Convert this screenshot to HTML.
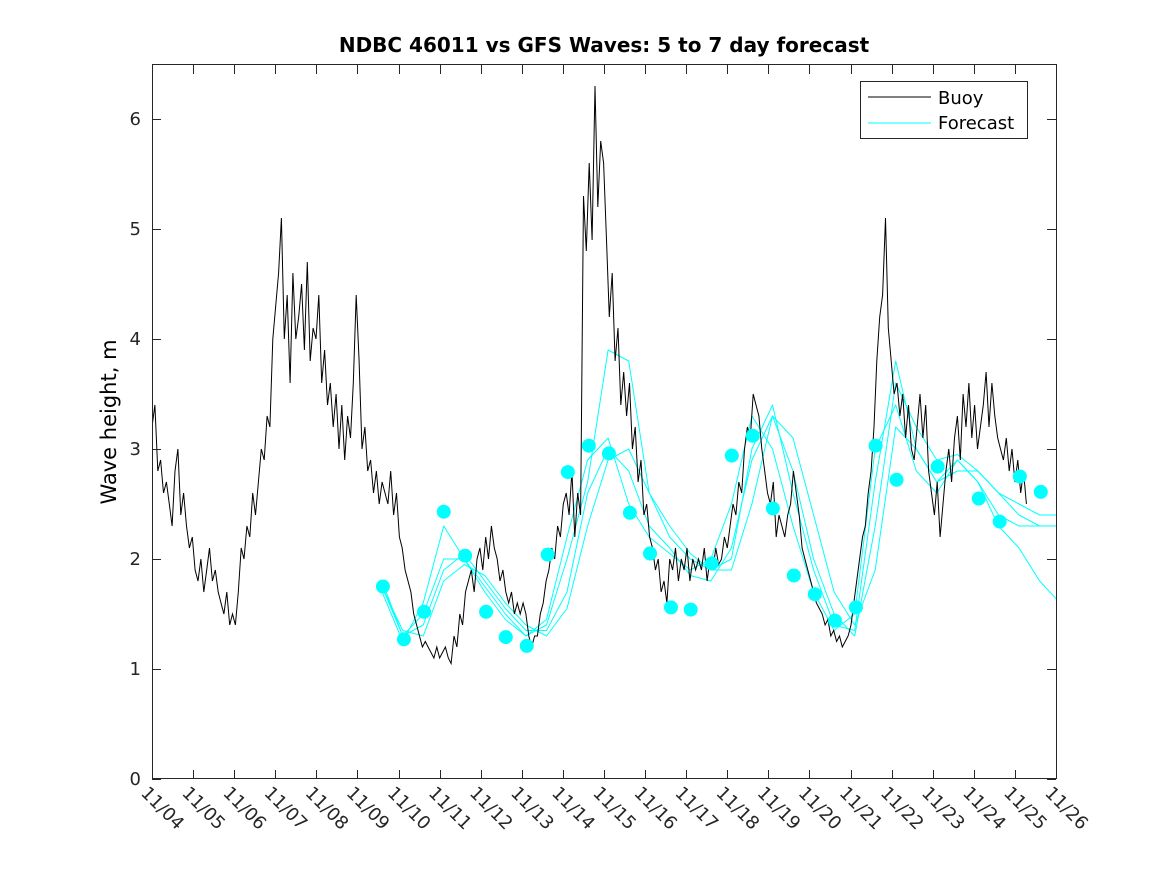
<!DOCTYPE html>
<html><head><meta charset="utf-8"><style>
body{margin:0;background:#fff}
svg text{font-family:"DejaVu Sans","Liberation Sans",sans-serif}
</style></head><body>
<svg id="chart" width="1167" height="875" xmlns="http://www.w3.org/2000/svg">
<rect width="1167" height="875" fill="#fff"/>
<text x="604" y="52" text-anchor="middle" font-size="20" font-weight="bold">NDBC 46011 vs GFS Waves: 5 to 7 day forecast</text>
<text transform="translate(116,422) rotate(-90)" text-anchor="middle" font-size="21">Wave height, m</text>
<g id="plot"></g>
<rect x="152.5" y="64.5" width="904" height="714" fill="none" stroke="#262626" stroke-width="1"/>
<g id="axes"></g>
<g>
<rect x="860.5" y="81.5" width="167" height="57" fill="#fff" stroke="#262626"/>
<line x1="868" y1="97" x2="931" y2="97" stroke="#000"/>
<text x="938" y="104" font-size="18">Buoy</text>
<line x1="868" y1="123" x2="931" y2="123" stroke="#0ff"/>
<text x="938" y="129" font-size="18">Forecast</text>
</g>
</svg>
<script>
const dateLabels=["11/04","11/05","11/06","11/07","11/08","11/09","11/10","11/11","11/12","11/13","11/14","11/15","11/16","11/17","11/18","11/19","11/20","11/21","11/22","11/23","11/24","11/25","11/26"];
const yTicks=[0,1,2,3,4,5,6];
const buoyStart=0, buoyStep=0.07;
const buoyVals=[
3.2,3.4,2.8,2.9,2.6,2.7,2.5,2.3,2.8,3.0,
2.4,2.6,2.3,2.1,2.2,1.9,1.8,2.0,1.7,1.9,
2.1,1.8,1.9,1.7,1.6,1.5,1.7,1.4,1.5,1.4,
1.7,2.1,2.0,2.3,2.2,2.6,2.4,2.7,3.0,2.9,
3.3,3.2,4.0,4.3,4.6,5.1,4.0,4.4,3.6,4.6,
4.0,4.2,4.5,3.9,4.7,3.8,4.1,4.0,4.4,3.6,
3.9,3.4,3.6,3.2,3.5,3.0,3.4,2.9,3.3,3.1,
3.6,4.4,3.8,3.0,3.2,2.8,2.9,2.6,2.8,2.5,
2.7,2.6,2.5,2.8,2.4,2.6,2.2,2.1,1.9,1.8,
1.7,1.5,1.4,1.3,1.2,1.25,1.2,1.15,1.1,1.2,
1.1,1.15,1.2,1.1,1.05,1.3,1.2,1.5,1.4,1.7,
1.8,1.9,1.7,2.0,2.1,1.9,2.2,2.0,2.3,2.1,
2.0,1.8,1.9,1.7,1.6,1.7,1.5,1.6,1.5,1.6,
1.5,1.3,1.2,1.3,
1.3,1.5,1.6,1.8,1.9,2.1,2.0,2.3,2.2,2.5,
2.6,2.4,2.8,2.2,2.6,2.4,5.3,4.8,5.6,4.9,
6.3,5.2,5.8,5.6,4.9,4.2,4.6,3.8,4.1,3.4,
3.7,3.3,3.6,3.0,3.2,2.7,2.9,2.4,2.5,2.2,
2.1,1.9,2.0,1.7,1.8,1.6,2.0,1.9,2.1,1.8,
2.0,1.9,2.1,1.8,2.0,1.9,
2.0,1.9,2.1,1.8,2.0,1.9,2.1,1.95,2.0,2.2,
2.1,2.3,2.5,2.4,2.7,2.6,3.0,3.2,3.1,3.5,
3.4,3.3,3.0,2.8,2.6,2.5,2.7,2.2,2.4,2.3,
2.2,2.4,2.5,2.8,2.6,2.4,2.1,2.0,1.9,1.8,
1.7,1.6,1.55,1.5,1.4,1.45,1.3,1.35,1.25,1.3,
1.2,1.25,1.3,1.4,1.6,1.8,2.0,2.2,2.3,2.6,
2.8,3.2,3.8,4.2,4.4,5.1,4.1,3.8,3.5,3.6,
3.3,3.5,3.1,3.4,3.0,2.9,3.2,3.5,3.1,3.4,
2.8,2.6,2.4,2.7,2.2,2.5,2.8,3.0,2.7,3.1,
3.3,2.9,3.5,3.2,3.6,3.1,3.4,3.0,3.2,3.4,
3.7,3.2,3.6,3.3,3.1,3.0,2.9,3.1,2.8,3.0,
2.7,2.9,2.6,2.8,2.5];
const fcStart=5.6, fcStep=0.5;
const fcSeries=[
[1.75,1.3,1.5,2.0,2.0,1.7,1.45,1.3,1.45,2.2,2.9,3.1,2.5,2.2,2.05,1.9,2.0,2.5,3.3,3.0,2.3,1.7,1.35,1.5,3.0,3.4,2.8,2.6,2.9,2.7,2.4,2.3,2.3,2.3],
[1.7,1.25,1.6,2.3,2.0,1.75,1.5,1.3,1.4,2.0,2.7,3.9,3.8,2.6,2.2,2.0,1.9,2.0,3.0,3.4,2.6,1.9,1.4,1.35,2.7,3.8,3.0,2.7,2.9,2.7,2.3,2.1,1.8,1.6],
[1.8,1.3,1.4,1.9,2.05,1.8,1.55,1.35,1.35,1.7,2.6,3.0,2.8,2.3,2.1,1.85,1.8,2.1,2.9,3.3,2.8,2.0,1.5,1.3,2.3,3.6,3.2,2.9,2.95,2.8,2.6,2.5,2.4,2.4],
[1.75,1.35,1.3,1.8,1.95,1.85,1.6,1.4,1.3,1.55,2.3,2.9,3.0,2.6,2.3,2.05,1.9,1.9,2.5,3.3,3.1,2.4,1.7,1.4,1.9,3.2,3.0,2.7,2.8,2.8,2.6,2.4,2.3,2.3]];
const dotDays=[5.62,6.13,6.62,7.1,7.62,8.13,8.61,9.12,9.63,10.12,10.63,11.12,11.63,12.12,12.63,13.11,13.62,14.11,14.62,15.11,15.62,16.13,16.62,17.13,17.61,18.12,19.12,20.12,20.63,21.12,21.63];
const dotVals=[1.75,1.27,1.52,2.43,2.03,1.52,1.29,1.21,2.04,2.79,3.03,2.96,2.42,2.05,1.56,1.54,1.96,2.94,3.12,2.46,1.85,1.68,1.44,1.56,3.03,2.72,2.84,2.55,2.34,2.75,2.61];
const NS="http://www.w3.org/2000/svg";
const X=d=>152+d*(904/22), Y=v=>779-v*110;
const plot=document.getElementById('plot'), axes=document.getElementById('axes');
function mk(t,a,p){const e=document.createElementNS(NS,t);for(const k in a)e.setAttribute(k,a[k]);p.appendChild(e);return e;}
const cp=mk('clipPath',{id:'pc'},plot);mk('rect',{x:152,y:64,width:905,height:715},cp);
const g=mk('g',{'clip-path':'url(#pc)'},plot);
fcSeries.forEach((s,i)=>{
 const pts=s.map((v,j)=>X(fcStart+j*fcStep).toFixed(1)+','+Y(v).toFixed(1)).join(' ');
 const l=mk('polyline',{points:pts,fill:'none',stroke:'#00ffff','stroke-width':1,'stroke-linejoin':'round'},g);
 
 
});
const b=mk('polyline',{points:buoyVals.map((v,i)=>X(buoyStart+i*buoyStep).toFixed(1)+','+Y(v).toFixed(1)).join(' '),fill:'none',stroke:'#000','stroke-width':1},g);


dotDays.forEach((d,i)=>{
 const c=mk('circle',{cx:X(d),cy:Y(dotVals[i]),r:7,fill:'#00ffff'},g);
 
 
});
yTicks.forEach(v=>{
 const y=Y(v)+0.5;
 mk('line',{x1:152,y1:y,x2:161,y2:y,stroke:'#262626'},axes);
 mk('line',{x1:1047,y1:y,x2:1056,y2:y,stroke:'#262626'},axes);
 const t=mk('text',{x:141,y:Y(v)+6,'text-anchor':'end','font-size':18,fill:'#262626'},axes);t.textContent=v;
 
 
});
dateLabels.forEach((s,i)=>{
 const x=Math.round(X(i))+0.5;
 mk('line',{x1:x,y1:779,x2:x,y2:770,stroke:'#262626'},axes);
 mk('line',{x1:x,y1:65,x2:x,y2:74,stroke:'#262626'},axes);
 const t=mk('text',{transform:`translate(${X(i)-12},${794}) rotate(45)`,'font-size':18,fill:'#262626'},axes);t.textContent=s;
 
 
});
</script>
</body></html>
